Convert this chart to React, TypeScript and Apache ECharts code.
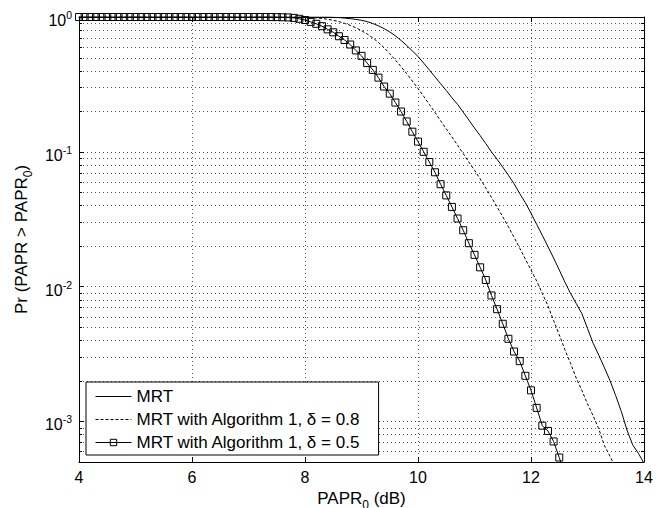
import React, { useEffect, useRef } from 'react';
import * as echarts from 'echarts';

const FONT = '"Liberation Sans", Arial, Helvetica, sans-serif';

// x ticks
const X_MIN = 4;
const X_MAX = 14;
const X_INTERVAL = 2;
// y axis range (log)
const Y_MIN = 0.0005;
const Y_MAX = 1;
// minor log grid values
const MINOR_Y = [
  0.0006, 0.0007, 0.0008, 0.0009,
  0.002, 0.003, 0.004, 0.005, 0.006, 0.007, 0.008, 0.009,
  0.02, 0.03, 0.04, 0.05, 0.06, 0.07, 0.08, 0.09,
  0.2, 0.3, 0.4, 0.5, 0.6, 0.7, 0.8, 0.9,
];

const SERIES_NAMES = [
  'MRT',
  'MRT with Algorithm 1, δ = 0.8',
  'MRT with Algorithm 1, δ = 0.5',
];

// MRT (solid)
const mrtX = [4, 8.4, 8.5, 8.6, 8.7, 8.8, 8.9, 9.0, 9.1, 9.2, 9.3, 9.4, 9.5, 9.6, 9.7, 9.8, 9.9,
  10.0, 10.1, 10.2, 10.3, 10.4, 10.5, 10.6, 10.7, 10.8, 10.9, 11.0, 11.1, 11.2, 11.3, 11.4, 11.5,
  11.6, 11.7, 11.8, 11.9, 12.0, 12.1, 12.2, 12.3, 12.4, 12.5, 12.6, 12.7, 12.8, 12.9, 13.0, 13.1,
  13.2, 13.3, 13.4, 13.5, 13.6, 13.7, 13.8, 13.9, 14.0];
const mrtY = [1, 1, 0.996, 0.99, 0.982, 0.972, 0.96, 0.945, 0.925, 0.895, 0.86, 0.82, 0.775, 0.725,
  0.67, 0.615, 0.56, 0.51, 0.455, 0.405, 0.36, 0.32, 0.285, 0.252, 0.225, 0.197, 0.172, 0.15, 0.132,
  0.115, 0.1, 0.088, 0.077, 0.067, 0.058, 0.049, 0.042, 0.035, 0.029, 0.024, 0.0198, 0.0163, 0.0133,
  0.0108, 0.0089, 0.0075, 0.0063, 0.0049, 0.0038, 0.0031, 0.0025, 0.002, 0.00155, 0.00118, 0.00086,
  0.00067, 0.00058, 0.00049];

// MRT with Algorithm 1, delta = 0.8 (dashed)
const alg08X = [4, 7.9, 8.0, 8.1, 8.2, 8.3, 8.4, 8.5, 8.6, 8.7, 8.8, 8.9, 9.0, 9.1, 9.2, 9.3, 9.4,
  9.5, 9.6, 9.7, 9.8, 9.9, 10.0, 10.1, 10.2, 10.3, 10.4, 10.5, 10.6, 10.7, 10.8, 10.9, 11.0, 11.1,
  11.2, 11.3, 11.4, 11.5, 11.6, 11.7, 11.8, 11.9, 12.0, 12.1, 12.2, 12.3, 12.4, 12.5, 12.6, 12.7,
  12.8, 12.9, 13.0, 13.1, 13.2, 13.3, 13.4, 13.5];
const alg08Y = [1, 1, 0.997, 0.993, 0.985, 0.975, 0.962, 0.945, 0.925, 0.898, 0.868, 0.832, 0.792,
  0.748, 0.7, 0.647, 0.592, 0.535, 0.48, 0.428, 0.38, 0.335, 0.295, 0.258, 0.225, 0.196, 0.17, 0.148,
  0.129, 0.112, 0.097, 0.084, 0.073, 0.063, 0.054, 0.046, 0.039, 0.033, 0.0278, 0.0232, 0.0193, 0.016,
  0.0133, 0.011, 0.0089, 0.0072, 0.0056, 0.0044, 0.0034, 0.0027, 0.0021, 0.0017, 0.00135, 0.0011,
  0.00088, 0.00066, 0.00055, 0.00045];

// MRT with Algorithm 1, delta = 0.5 (square markers every 0.1 dB)
const alg05X = [4.0, 4.1, 4.2, 4.3, 4.4, 4.5, 4.6, 4.7, 4.8, 4.9, 5.0, 5.1, 5.2, 5.3, 5.4, 5.5, 5.6,
  5.7, 5.8, 5.9, 6.0, 6.1, 6.2, 6.3, 6.4, 6.5, 6.6, 6.7, 6.8, 6.9, 7.0, 7.1, 7.2, 7.3, 7.4, 7.5, 7.6,
  7.7, 7.8, 7.9, 8.0, 8.1, 8.2, 8.3, 8.4, 8.5, 8.6, 8.7, 8.8, 8.9, 9.0, 9.1, 9.2, 9.3, 9.4, 9.5, 9.6,
  9.7, 9.8, 9.9, 10.0, 10.1, 10.2, 10.3, 10.4, 10.5, 10.6, 10.7, 10.8, 10.9, 11.0, 11.1, 11.2, 11.3,
  11.4, 11.5, 11.6, 11.7, 11.8, 11.9, 12.0, 12.1, 12.2, 12.3, 12.4, 12.5, 12.6];
const alg05Y = [1, 1, 1, 1, 1, 1, 1, 1, 1, 1, 1, 1, 1, 1, 1, 1, 1, 1, 1, 1, 1, 1, 1, 1, 1, 1, 1, 1,
  1, 1, 1, 1, 1, 1, 0.999, 0.998, 0.996, 0.993, 0.985, 0.97, 0.95, 0.92, 0.89, 0.855, 0.81, 0.77,
  0.72, 0.675, 0.625, 0.565, 0.515, 0.455, 0.405, 0.355, 0.305, 0.27, 0.232, 0.199, 0.168, 0.141,
  0.119, 0.1, 0.084, 0.0705, 0.0575, 0.0475, 0.039, 0.032, 0.0262, 0.021, 0.0172, 0.0139, 0.0112,
  0.0086, 0.0068, 0.0053, 0.0041, 0.0033, 0.0028, 0.00218, 0.0017, 0.00126, 0.00093, 0.00085,
  0.00071, 0.00054, 0.0004];

const pairs = (xs: number[], ys: number[]) => xs.map((x, i) => [x, ys[i]]);

export default function App() {
  const ref = useRef<HTMLDivElement>(null);

  useEffect(() => {
    if (!ref.current) return;
    const chart = echarts.init(ref.current, null, { renderer: 'svg' });

    const black = '#000';
    const clear = 'rgba(0,0,0,0)';
    const gridDot = { color: '#555', width: 1, type: [1, 3] as number[] };

    // rich styles: main text at the top of a tall line, subscript at its bottom
    const nameRich = {
      b: { fontSize: 17, fontFamily: FONT, color: black, lineHeight: 21, verticalAlign: 'top' },
      s: { fontSize: 12, fontFamily: FONT, color: black, lineHeight: 10, verticalAlign: 'bottom' },
    };

    const option: any = {
      animation: false,
      backgroundColor: '#fff',
      textStyle: { fontFamily: FONT },
      grid: { left: 79, right: 21, top: 17, bottom: 46, containLabel: false, outerBoundsMode: 'none' },
      legend: {
        data: [
          { name: SERIES_NAMES[0], itemStyle: { color: clear, borderColor: clear, borderWidth: 0 } },
          { name: SERIES_NAMES[1], itemStyle: { color: clear, borderColor: clear, borderWidth: 0 } },
          { name: SERIES_NAMES[2], itemStyle: { color: clear, borderColor: black, borderWidth: 1 } },
        ],
        orient: 'vertical',
        left: 86,
        top: 382,
        itemWidth: 36,
        itemHeight: 8,
        itemGap: 6,
        padding: [6, 18, 4, 9],
        borderColor: black,
        borderWidth: 1,
        borderRadius: 0,
        backgroundColor: '#fff',
        selectedMode: false,
        lineStyle: { width: 1 },
        textStyle: { fontSize: 17, fontFamily: FONT, color: black },
      },
      xAxis: [
        {
          type: 'value',
          min: X_MIN,
          max: X_MAX,
          interval: X_INTERVAL,
          position: 'bottom',
          axisLine: { show: true, onZero: false, lineStyle: { color: black, width: 1 } },
          axisTick: { show: true, inside: true, length: 5, lineStyle: { color: black } },
          axisLabel: { color: black, fontSize: 16, fontFamily: FONT, margin: 7 },
          splitLine: { show: true, lineStyle: gridDot },
          name: '{b|PAPR}{s|0}{b| (dB)}',
          nameLocation: 'middle',
          nameGap: 19,
          nameTextStyle: { rich: nameRich },
        },
        {
          type: 'value',
          min: X_MIN,
          max: X_MAX,
          interval: X_INTERVAL,
          position: 'top',
          axisLine: { show: true, onZero: false, lineStyle: { color: black, width: 1 } },
          axisTick: { show: true, inside: true, length: 5, lineStyle: { color: black } },
          axisLabel: { show: false },
          splitLine: { show: false },
        },
      ],
      yAxis: [
        {
          type: 'log',
          logBase: 10,
          min: Y_MIN,
          max: Y_MAX,
          position: 'left',
          axisLine: { show: true, onZero: false, lineStyle: { color: black, width: 1 } },
          axisTick: { show: true, inside: true, length: 5, lineStyle: { color: black } },
          axisLabel: {
            showMinLabel: false,
            margin: 7,
            padding: [4, 0, 0, 0],
            formatter: (v: number) => {
              const l = Math.log10(v);
              const e = Math.round(l);
              if (Math.abs(l - e) > 1e-6) return '';
              return `{b|10}{s|${e}}`;
            },
            rich: {
              b: { fontSize: 16, fontFamily: FONT, color: black, lineHeight: 19, verticalAlign: 'bottom' },
              s: { fontSize: 10.5, fontFamily: FONT, color: black, lineHeight: 10, verticalAlign: 'top' },
            },
          },
          splitLine: { show: true, lineStyle: gridDot },
          name: '{b|Pr (PAPR > PAPR}{s|0}{b|)}',
          nameLocation: 'middle',
          nameGap: 38,
          nameTextStyle: { rich: nameRich },
        },
        {
          type: 'log',
          logBase: 10,
          min: Y_MIN,
          max: Y_MAX,
          position: 'right',
          axisLine: { show: true, onZero: false, lineStyle: { color: black, width: 1 } },
          axisTick: { show: true, inside: true, length: 5, lineStyle: { color: black } },
          axisLabel: { show: false },
          splitLine: { show: false },
        },
      ],
      series: [
        {
          type: 'custom',
          name: 'minor',
          coordinateSystem: 'cartesian2d',
          xAxisIndex: 0,
          yAxisIndex: 0,
          silent: true,
          z: 1,
          encode: { x: 0, y: 1 },
          data: MINOR_Y.map((v) => [X_MIN, v]),
          renderItem: (params: any, api: any) => {
            const v = api.value(1);
            const l = api.coord([X_MIN, v]);
            const r = api.coord([X_MAX, v]);
            const y = Math.round(l[1]) + 0.5;
            return {
              type: 'group',
              children: [
                { type: 'line', shape: { x1: l[0], y1: y, x2: r[0], y2: y }, style: { stroke: '#555', lineWidth: 1, lineDash: [1, 3] } },
                { type: 'line', shape: { x1: l[0], y1: y, x2: l[0] + 3, y2: y }, style: { stroke: black, lineWidth: 1 } },
                { type: 'line', shape: { x1: r[0] - 3, y1: y, x2: r[0], y2: y }, style: { stroke: black, lineWidth: 1 } },
              ],
            };
          },
        },
        {
          type: 'line',
          name: SERIES_NAMES[0],
          data: pairs(mrtX, mrtY),
          symbol: 'none',
          color: black,
          lineStyle: { color: black, width: 1, type: 'solid' },
          z: 3,
        },
        {
          type: 'line',
          name: SERIES_NAMES[1],
          data: pairs(alg08X, alg08Y),
          symbol: 'none',
          color: black,
          lineStyle: { color: black, width: 1, type: [3, 2] },
          z: 3,
        },
        {
          type: 'line',
          name: SERIES_NAMES[2],
          data: pairs(alg05X, alg05Y),
          symbol: 'rect',
          symbolSize: 7,
          showAllSymbol: true,
          color: black,
          lineStyle: { color: black, width: 1, type: 'solid' },
          itemStyle: { color: clear, borderColor: black, borderWidth: 1 },
          z: 4,
        },
      ],
    };

    chart.setOption(option);
    return () => chart.dispose();
  }, []);

  return <div ref={ref} style={{ position: 'absolute', left: 0, top: 0, width: 665, height: 508 }} />;
}
